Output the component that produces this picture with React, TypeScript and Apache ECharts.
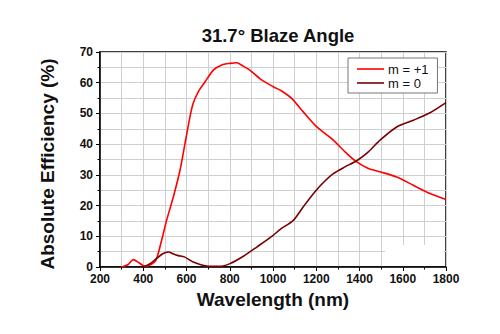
import React, { useEffect, useRef } from "react";
import * as echarts from "echarts";

const plusOneWavelengths = [300, 330, 354, 380, 408, 435, 459, 485, 508, 539, 570, 593, 616, 631, 655, 686, 724, 763, 801, 832, 860, 893, 947, 1001, 1040, 1086, 1140, 1194, 1240, 1279, 1333, 1387, 1441, 1495, 1572, 1649, 1726, 1800];
const plusOneValues = [0, 0.8, 2.4, 1.4, 0.2, 0.8, 2.2, 8.7, 15.2, 22.8, 31.5, 40.2, 48.9, 53.3, 57.1, 60.3, 64.1, 65.8, 66.3, 66.5, 65.5, 64.1, 60.9, 58.7, 57.3, 54.9, 50.5, 46.2, 43.5, 41.3, 37.5, 34.2, 32.1, 31, 29.3, 26.6, 23.9, 22];

const zeroWavelengths = [400, 430, 462, 490, 516, 540, 562, 590, 631, 693, 755, 801, 863, 925, 1001, 1032, 1094, 1140, 1194, 1240, 1279, 1333, 1387, 1441, 1495, 1572, 1649, 1726, 1800];
const zeroValues = [0, 1.0, 2.8, 4.3, 4.9, 4.2, 3.7, 3.3, 1.6, 0.3, 0.2, 1.1, 3.5, 6.5, 10.3, 12.2, 15.2, 19.6, 24.5, 28, 30.4, 32.6, 34.6, 37.5, 41.3, 45.6, 47.8, 50.2, 53.5];

const seriesNames = ["m = +1", "m = 0"];
const titleText = "31.7\u00b0 Blaze Angle";
const xName = "Wavelength (nm)";
const yName = "Absolute Efficiency (%)";

const FONT = "'Liberation Sans', Arial, Helvetica, sans-serif";

export default function App() {
  const ref = useRef<HTMLDivElement>(null);
  useEffect(() => {
    if (!ref.current) return;
    const chart = echarts.init(ref.current, null, { renderer: "svg" });
    const pair = (xs: number[], ys: number[]) => xs.map((x, i) => [x, ys[i]]);
    chart.setOption({
      animation: false,
      backgroundColor: "#fff",
      title: {
        text: titleText,
        left: 273,
        textAlign: "center",
        top: 21,
        textStyle: { fontFamily: FONT, fontSize: 18.5, fontWeight: "bold", color: "#111" },
      },
      legend: {
        data: seriesNames.map((n) => ({ name: n, icon: "rect" })),
        orient: "vertical",
        left: 348,
        top: 58,
        padding: [4, 9, 3, 9],
        itemGap: 0,
        itemWidth: 27,
        itemHeight: 1.6,
        borderColor: "#777",
        borderWidth: 1,
        backgroundColor: "#fff",
        textStyle: { fontFamily: FONT, fontSize: 13, color: "#111", lineHeight: 14, padding: [0, 0, 0, -1] },
      },
      grid: {
        left: 100,
        right: 54,
        top: 52,
        bottom: 67,
        show: true,
        borderColor: "#000",
        borderWidth: 1.5,
        backgroundColor: "transparent",
      },
      xAxis: {
        type: "value",
        min: 200,
        max: 1800,
        interval: 200,
        name: xName,
        nameLocation: "middle",
        nameGap: 23,
        nameTextStyle: { fontFamily: FONT, fontSize: 19, fontWeight: "bold", color: "#111" },
        axisLine: { show: true, lineStyle: { color: "#000", width: 1.5 } },
        axisTick: { show: true, length: 4, lineStyle: { color: "#000", width: 1 } },
        minorTick: { show: true, splitNumber: 2, length: 2.5, lineStyle: { color: "#000", width: 1 } },
        axisLabel: { fontFamily: FONT, fontSize: 12, fontWeight: "bold", color: "#111", margin: 6, formatter: (v: number) => String(v) },
        splitLine: { show: true, lineStyle: { color: "#cfcfcf", width: 1 } },
        minorSplitLine: { show: true, lineStyle: { color: "#cfcfcf", width: 1 } },
      },
      yAxis: {
        type: "value",
        min: 0,
        max: 70,
        interval: 10,
        name: yName,
        nameLocation: "middle",
        nameGap: 43,
        nameTextStyle: { fontFamily: FONT, fontSize: 19, fontWeight: "bold", color: "#111", padding: [0, 0, 0, -9] },
        axisLine: { show: true, lineStyle: { color: "#000", width: 1.5 } },
        axisTick: { show: true, length: 4, lineStyle: { color: "#000", width: 1 } },
        minorTick: { show: true, splitNumber: 2, length: 2.5, lineStyle: { color: "#000", width: 1 } },
        axisLabel: { fontFamily: FONT, fontSize: 12, fontWeight: "bold", color: "#111", margin: 7, formatter: (v: number) => String(v) },
        splitLine: { show: true, lineStyle: { color: "#cfcfcf", width: 1 } },
        minorSplitLine: { show: true, lineStyle: { color: "#cfcfcf", width: 1 } },
      },
      graphic: [
        {
          type: "rect",
          z: 1,
          shape: { x: 385, y: 245, width: 59, height: 21 },
          style: { fill: "#fff" },
          silent: true,
        },
      ],
      series: [
        {
          name: seriesNames[0],
          type: "line",
          data: pair(plusOneWavelengths, plusOneValues),
          smooth: 0.25,
          symbol: "none",
          z: 3,
          lineStyle: { color: "#ff0000", width: 1.6 },
          itemStyle: { color: "#ff0000" },
        },
        {
          name: seriesNames[1],
          type: "line",
          data: pair(zeroWavelengths, zeroValues),
          smooth: 0.25,
          symbol: "none",
          z: 3,
          lineStyle: { color: "#7a0000", width: 1.6 },
          itemStyle: { color: "#7a0000" },
        },
      ],
    });
    return () => chart.dispose();
  }, []);
  return (
    <div style={{ position: "absolute", left: 0, top: 0 }}>
      <div ref={ref} style={{ width: 500, height: 334 }} />
    </div>
  );
}
